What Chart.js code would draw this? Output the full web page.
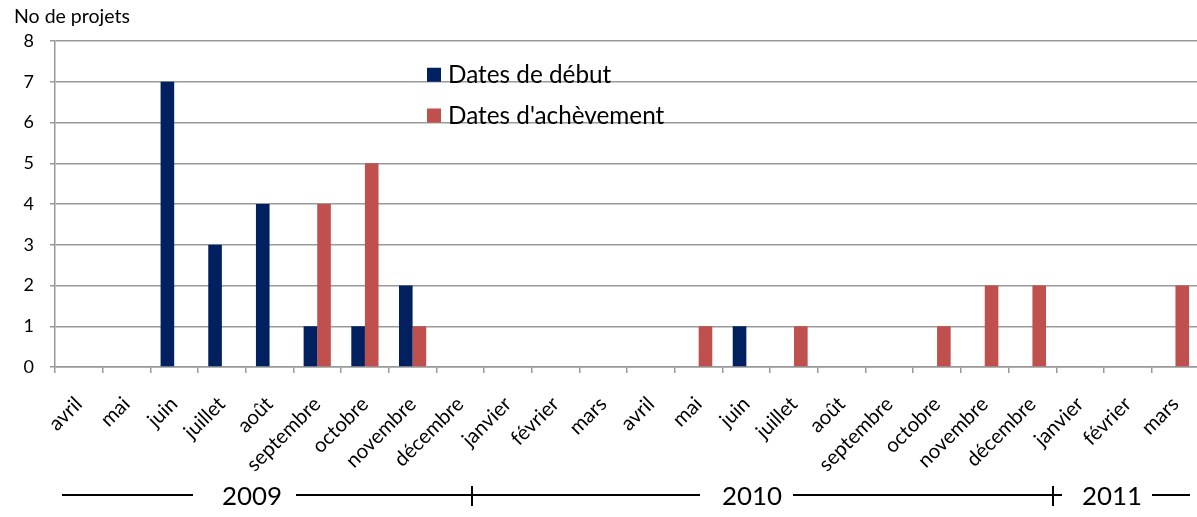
<!DOCTYPE html>
<html><head><meta charset="utf-8">
<script src="https://cdn.jsdelivr.net/npm/chart.js@4.4.1/dist/chart.umd.min.js"></script>
<style>html,body{margin:0;padding:0;overflow:hidden;background:#fff}</style>
</head><body>
<canvas id="c" width="1212" height="517"></canvas>
<script>
const months = ['avril','mai','juin','juillet','août','septembre','octobre','novembre','décembre','janvier','février','mars','avril','mai','juin','juillet','août','septembre','octobre','novembre','décembre','janvier','février','mars'];
const debut      = [0,0,7,3,4,1,1,2,0,0,0,0,0,0,1,0,0,0,0,0,0,0,0,0];
const achevement = [0,0,0,0,0,4,5,1,0,0,0,0,0,1,0,1,0,0,1,2,2,0,0,2];
const yTicks = [0,1,2,3,4,5,6,7,8];
const years = ['2009','2010','2011'];
const yTitle = 'No de projets';
const seriesNames = ['Dates de début', "Dates d'achèvement"];
const colors = ['#002060', '#C0504D'];
const FONT = 'Lato, "Open Sans", sans-serif';

const mctx = document.createElement('canvas').getContext('2d');
function fit(text, target) {
  mctx.font = '20px ' + FONT;
  const w = mctx.measureText(text).width;
  return Math.round(20 * target / w * 10) / 10;
}
const xFont = fit('septembre', 95);
const legFont = fit('Dates de début', 163);
const titleFont = fit('No de projets', 116);
const yearFont = fit('2009', 60);

const overlay = {
  id: 'overlay',
  afterDraw(chart) {
    const ctx = chart.ctx;
    ctx.save();
    ctx.fillStyle = '#000';
    ctx.font = titleFont + 'px ' + FONT;
    ctx.textAlign = 'left';
    ctx.textBaseline = 'alphabetic';
    ctx.fillText(yTitle, 14, 23);
    const ys = chart.scales.y;
    chart.data.datasets.forEach((ds, i) => {
      const base = ys.getPixelForValue(7 - i);
      ctx.fillStyle = ds.backgroundColor;
      ctx.fillRect(427, base - 14, 14, 14);
      ctx.fillStyle = '#000';
      ctx.font = legFont + 'px ' + FONT;
      ctx.fillText(ds.label, 448, base + 1);
    });
    const y = 495;
    ctx.strokeStyle = '#000';
    ctx.lineWidth = 2;
    const segs = [[62,193],[296,700],[793,1062],[1152,1190]];
    ctx.beginPath();
    segs.forEach(s => { ctx.moveTo(s[0], y); ctx.lineTo(s[1], y); });
    [472, 1053].forEach(x => { ctx.moveTo(x, 486); ctx.lineTo(x, 506); });
    ctx.stroke();
    ctx.font = yearFont + 'px ' + FONT;
    ctx.textAlign = 'center';
    ctx.textBaseline = 'middle';
    [252, 752, 1112].forEach((x, i) => ctx.fillText(years[i], x, y + 2));
    ctx.restore();
  }
};

new Chart(document.getElementById('c'), {
  type: 'bar',
  data: {
    labels: months,
    datasets: [
      { label: seriesNames[0], data: debut, backgroundColor: colors[0], borderWidth: 0 },
      { label: seriesNames[1], data: achevement, backgroundColor: colors[1], borderWidth: 0 }
    ]
  },
  options: {
    responsive: false,
    animation: false,
    devicePixelRatio: 1,
    categoryPercentage: 0.571,
    barPercentage: 1.0,
    layout: { padding: { top: 41, right: 11, left: 0, bottom: 0 } },
    plugins: { legend: { display: false }, title: { display: false }, tooltip: { enabled: false } },
    scales: {
      x: {
        grid: { display: true, drawOnChartArea: false, drawTicks: true, tickLength: 6, color: '#999', lineWidth: 1.5 },
        border: { display: true, color: '#999', width: 1.5 },
        ticks: { autoSkip: false, maxRotation: 45, minRotation: 45, color: '#000', font: { family: FONT, size: xFont }, padding: 19 },
        afterFit(s) { s.height = 150; }
      },
      y: {
        min: 0, max: 8,
        afterBuildTicks(s) { s.ticks = yTicks.map(v => ({ value: v })); },
        grid: { color: '#999', lineWidth: 1.5, tickLength: 5 },
        border: { display: true, color: '#999', width: 1.5 },
        ticks: { color: '#000', font: { family: FONT, size: 18 }, padding: 16 },
        afterFit(s) { s.width = 55; }
      }
    }
  },
  plugins: [overlay]
});
</script>
</body></html>
